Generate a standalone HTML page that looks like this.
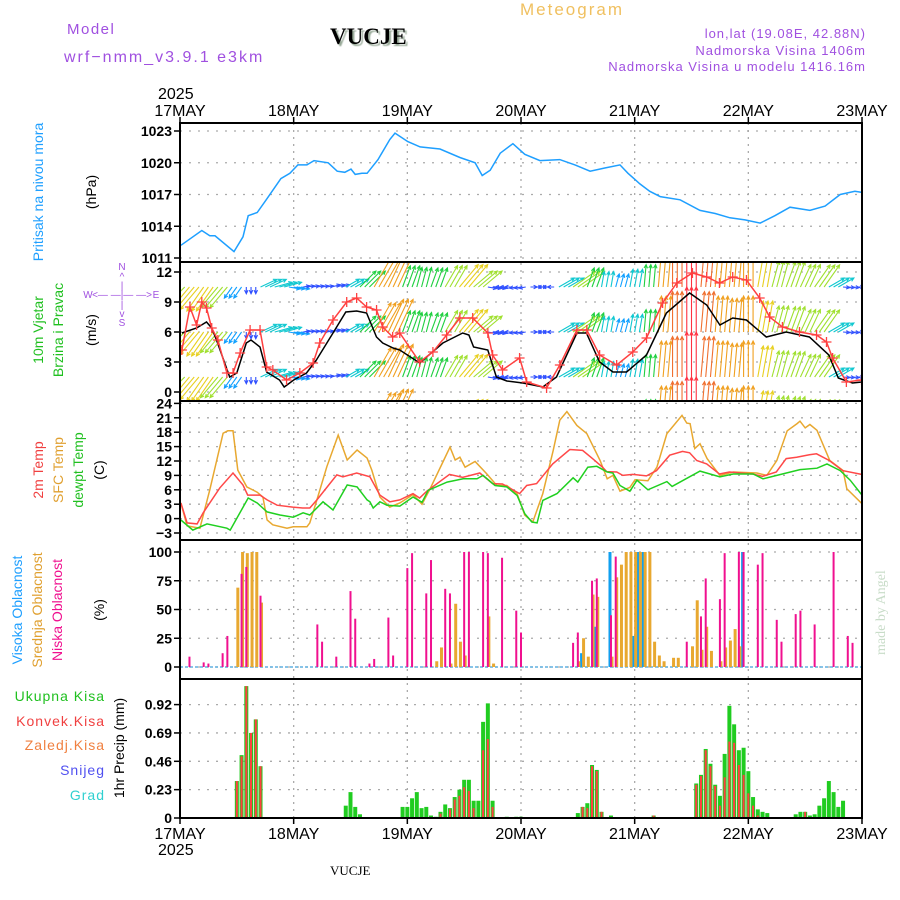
<!DOCTYPE html>
<html><head><meta charset="utf-8"><style>
html,body{margin:0;padding:0;background:#fff}
svg{display:block}
text{font-family:"Liberation Sans",sans-serif}
.tk{font-size:14px;font-weight:bold;fill:#000}
</style></head><body>
<svg id="chart" width="900" height="900" viewBox="0 0 900 900" xmlns="http://www.w3.org/2000/svg">
<defs>
<clipPath id="cp1"><rect x="180" y="123" width="682" height="139"/></clipPath>
<clipPath id="cp2"><rect x="180" y="263" width="682" height="138"/></clipPath>
<clipPath id="cp3"><rect x="180" y="402" width="682" height="138"/></clipPath>
<filter id="sh"><feDropShadow dx="2" dy="2" stdDeviation="0.6" flood-color="#9a9"/></filter>
</defs>
<text x="67" y="34" font-size="15" fill="#a050e0" letter-spacing="1.5">Model</text>
<text x="64" y="62" font-size="16" fill="#a050e0" letter-spacing="2">wrf−nmm_v3.9.1 e3km</text>
<text x="330" y="44" font-size="23" font-weight="bold" fill="#000" filter="url(#sh)" style="font-family:'Liberation Serif',serif">VUCJE</text>
<text x="520" y="15" font-size="17" fill="#f0c060" letter-spacing="2">Meteogram</text>
<text x="866" y="38" font-size="13" fill="#a050e0" text-anchor="end" letter-spacing="1">lon,lat (19.08E, 42.88N)</text>
<text x="866" y="55" font-size="13" fill="#a050e0" text-anchor="end" letter-spacing="1">Nadmorska Visina 1406m</text>
<text x="866" y="71" font-size="13" fill="#a050e0" text-anchor="end" letter-spacing="1">Nadmorska Visina u modelu 1416.16m</text>
<text x="158" y="99" font-size="16" fill="#000">2025</text>
<text x="158" y="855" font-size="16" fill="#000">2025</text>
<text x="330" y="875" font-size="13" fill="#000" style="font-family:'Liberation Serif',serif">VUCJE</text>
<text transform="translate(885,655) rotate(-90)" font-size="14" fill="#c8dcc8" style="font-family:'Liberation Serif',serif">made by Angel</text>
<g id="labels" font-size="14">
<text transform="translate(43,192) rotate(-90)" text-anchor="middle" fill="#1e9fff">Pritisak na nivou mora</text>
<text transform="translate(96,192) rotate(-90)" text-anchor="middle" fill="#000">(hPa)</text>
<text transform="translate(43,330) rotate(-90)" text-anchor="middle" fill="#20c020">10m Vjetar</text>
<text transform="translate(63,330) rotate(-90)" text-anchor="middle" fill="#20c020">Brzina i Pravac</text>
<text transform="translate(96,330) rotate(-90)" text-anchor="middle" fill="#000">(m/s)</text>
<text transform="translate(43,470) rotate(-90)" text-anchor="middle" fill="#f04040">2m Temp</text>
<text transform="translate(63,470) rotate(-90)" text-anchor="middle" fill="#e0a030">SFC Temp</text>
<text transform="translate(83,470) rotate(-90)" text-anchor="middle" fill="#20c020">dewpt Temp</text>
<text transform="translate(104,470) rotate(-90)" text-anchor="middle" fill="#000">(C)</text>
<text transform="translate(22,610) rotate(-90)" text-anchor="middle" fill="#1e9fff">Visoka Oblacnost</text>
<text transform="translate(42,610) rotate(-90)" text-anchor="middle" fill="#e0a030">Srednja Oblacnost</text>
<text transform="translate(62,610) rotate(-90)" text-anchor="middle" fill="#f0108f">Niska Oblacnost</text>
<text transform="translate(104,610) rotate(-90)" text-anchor="middle" fill="#000">(%)</text>
<text x="105" y="701" text-anchor="end" fill="#20c020" letter-spacing="1">Ukupna Kisa</text>
<text x="105" y="726" text-anchor="end" fill="#f04040" letter-spacing="1">Konvek.Kisa</text>
<text x="105" y="750" text-anchor="end" fill="#f08040" letter-spacing="1">Zaledj.Kisa</text>
<text x="105" y="775" text-anchor="end" fill="#5050f0" letter-spacing="1">Snijeg</text>
<text x="105" y="800" text-anchor="end" fill="#30d0d0" letter-spacing="1">Grad</text>
<text transform="translate(124,748) rotate(-90)" text-anchor="middle" fill="#000">1hr Precip (mm)</text>
</g>
<g fill="#a050e0" font-size="10" text-anchor="middle">
<text x="122" y="270">N</text><text x="122" y="280">^</text><text x="122" y="289">|</text>
<text x="88" y="298">W</text><text x="122" y="298">&lt;— —|— —&gt;</text><text x="156" y="298">E</text>
<text x="122" y="308">|</text><text x="122" y="317">v</text><text x="122" y="326">S</text>
</g>
<g id="plot"></g>
</svg>
<script>
const dayLabels=["17MAY","18MAY","19MAY","20MAY","21MAY","22MAY","23MAY"];
const presTicks=[1011,1014,1017,1020,1023];
const windTicks=[0,3,6,9,12];
const tempTicks=[-3,0,3,6,9,12,15,18,21,24];
const cloudTicks=[0,25,50,75,100];
const precipTicks=[0,0.23,0.46,0.69,0.92];
const presH=[0.2,4.6,6.3,7.4,11.4,13.3,14.4,16.3,18.2,21.3,23.2,24.9,26.8,28.3,31.3,33.2,34.8,36.1,37,38.4,39.5,41.8,44.3,45.4,48.1,50.7,54.9,59.1,62.3,63.8,65.5,67.6,70.3,72.8,76,80.2,83.4,86.6,89.7,92.9,94.6,97.1,99.2,101.4,105.6,109.8,113,116.1,119.3,122.5,125.6,128.8,133,136.2,139.4,142.5,144];
const presV=[1012.2,1013.6,1013.1,1013.1,1011.6,1013,1015,1015.3,1016.5,1018.5,1019,1019.8,1019.8,1020.2,1020,1019.2,1019.1,1019.4,1018.9,1019,1019,1020.3,1022.2,1022.8,1022,1021.5,1021.3,1020.5,1020,1018.8,1019.3,1020.9,1021.8,1020.8,1020.2,1020.3,1019.8,1019.2,1019.5,1019.8,1019,1018,1017.3,1016.8,1016.5,1015.5,1015.2,1014.8,1014.6,1014.3,1015,1015.8,1015.5,1015.9,1017,1017.3,1017.2];
const spdH=[0.4,3.5,5.6,6.7,7.7,10.5,12,14,15,16.9,18.3,21,22,24,26.7,28.8,32.3,35,37.3,39.4,41.5,42.8,45,46.4,50.6,55.5,59.7,61,62,65,66.8,69,72.4,76.6,79.5,83.8,85.8,88.6,91.4,94.3,98.5,102.7,107.6,111.2,114,116.7,119.6,123.8,128,132.9,137,139,142,144];
const spdV=[5.9,6.4,7,6.4,5.2,1.5,1.9,4.9,5.2,4.5,2,1.2,0.5,1.2,1.9,3.2,5.9,8,8.1,7.9,5.5,4.9,4.4,4.2,2.9,4.9,5.9,5.7,4.5,4.2,1.5,1.1,0.9,0.5,1.5,5.9,5.9,3,2,2,3.7,7.9,9.9,8.7,6.7,7.4,7.2,5.5,6,5.5,3.7,1.4,0.9,1];
const gustH=[0.4,2.1,3.5,4.6,5.6,6.7,8,9.9,11.2,12.7,14.8,16.9,18.3,19.6,22.5,25.3,28.1,29.5,32.3,35.2,37.3,39.4,41.5,42.8,44.9,46.4,50.6,53.4,56.3,59.1,61.8,65,66,68.1,71.7,73.2,77.4,80.2,83.8,85.9,88.6,92.2,95.6,98.5,101.9,104.9,108.2,111.2,113.9,116.7,119.6,122.4,124.5,127.2,130.8,134.4,136.5,137.8,140.7,143.9];
const gustV=[4.2,8.5,6.7,9,8.4,6.4,5.2,1.9,1.9,3.9,6.2,6.2,2.5,2.2,1.2,1.9,2.9,4.9,7.2,9,9.4,8.5,8.2,6.5,5.5,5.9,3,4,5.7,7.4,7.4,5.9,3.7,2.2,3.4,1,0.4,2.7,6.2,6.2,3.7,2.7,4,5.4,8.9,10.9,11.9,11.5,10.9,11.5,11.2,9.4,7.5,6.5,6,5.7,5,3.4,1,1.2];
const arrowH=[0,3,6,9,12,15,18,21,24,27,30,33,36,39,42,45,48,51,54,57,60,63,66,69,72,75,78,81,84,87,90,93,96,99,102,105,108,111,114,117,120,123,126,129,132,135,138,141,144];
const arrowSpd=[6,6.5,6.5,6,3,1.5,4,4,2.5,1.5,1.5,2,3.5,5,7.5,8,5,4.5,4.5,5.5,6.5,5.5,2,1.5,1.5,1.5,1.5,4,6,4.5,3.5,3,4,5,8,9,10,9,8,7.5,8,7,6,6,5.5,6,4,1.5,1.5];
const arrowDir=[225,220,215,220,215,180,65,75,100,80,80,75,60,45,30,25,20,15,20,30,40,50,100,270,260,90,270,60,55,20,10,15,10,5,5,0,0,5,5,5,0,10,15,20,25,35,60,95,90];
const arrowLevels=[-3,1.5,6,10.5];
const t2H=[0.2,1.5,3.6,4.9,8.4,11.2,13.3,14.3,16.9,18.4,20.5,23.8,25.9,27.4,28.9,33.1,34.4,37.3,40.1,42.2,44.3,46.4,49.2,50.6,52.1,56.9,59.7,63.3,66,68.1,71.7,73.2,75.3,78.7,82.3,85,87.1,89.2,90.1,92.2,93.5,95.6,98.5,100.6,103.4,106.1,107.6,109.1,111.2,113.9,116,120.9,123,125.9,128,130.2,132.9,134.4,137.1,139.9,143.9];
const t2V=[3.25,-0.9,-1.1,1.2,6.4,9.5,7,4.9,4.9,3.9,2.8,2.4,2.2,2.2,3.9,9.1,8.7,9.5,8.7,4.9,3.5,3.9,5.2,4.3,5.7,9.2,8.6,9.5,7.3,7.2,5.2,6.9,7.3,11.4,14.4,14.2,12.5,10.7,9.8,9.7,9,9.2,8.9,10,13.2,14,13.7,12.1,11.4,9.3,9.7,9.3,8.8,9.7,12.5,12.8,13.3,13.5,12.1,10,9.2];
const sfcH=[0.2,1.5,4.2,6.3,9.1,10.1,11.2,12.2,14.1,16.3,17.5,18.4,19.6,22.6,23.9,26.8,27.4,28.9,31,33.4,35.3,37.4,39.5,40.5,42.2,44.3,46.4,49.2,51.1,52.8,55.5,57,58.1,59.1,60.2,62.3,64.8,66.9,69,71.2,72.8,74.5,76.6,78.8,80.2,81.7,83.8,85.9,88.7,90.2,91.4,92.9,95,96.1,98.8,100.7,102.8,106,107,107.7,108.7,109.8,111.3,114,116.8,121.8,123.9,126,128.2,130.3,130.9,132,133,134.5,137.2,140,140.8,144];
const sfcV=[3.25,-1.5,-2,6,17.8,18.3,18.3,10.1,6.6,5.5,4.5,-0.3,-1.3,-2,-1.7,-1.7,-0.9,3.9,10.8,17.4,12.2,14.3,12.6,10.1,4.5,2.4,3.25,5,3,6.2,11.8,14.9,12.2,12.8,10.7,11.9,9.3,6.9,6.9,5.1,0.7,-0.7,5.2,14.2,20.5,22.3,19.4,17.7,12.1,8.3,9,5.7,6.5,8.1,7.9,10.7,17.7,21.5,19.9,19.8,14.6,15.6,12.5,9,9.7,9.5,9,12.1,18.3,19.8,20.3,18.9,19.6,18.4,12.1,10,6.2,3.1];
const dewH=[0.2,2.7,5.7,9.9,10.6,14.4,16.3,18.4,21.1,23.9,26,27.4,30.2,32.3,35.3,37.4,39.5,40.1,40.8,42.2,43.7,46.4,49.2,51.1,52.4,56.4,59.8,62.7,64,66.5,69,71.2,72.8,74.3,75.4,76.6,79.6,83,84,86.1,88,90.2,91.4,92.9,95,96.5,98.8,102.8,103.9,109.8,114,116.8,121,123.1,126,130.9,134.5,136.6,139.4,141.5,144];
const dewV=[-0.3,-2.4,-1.1,-2,-2.4,4.3,3.25,1.4,0.75,0.3,1.2,0.75,3.5,1.8,7,6.6,3.9,3.5,2.2,3.5,2.8,2.6,4.5,3.4,5.9,7.6,8.3,8.3,9,6.9,6.6,4.8,1,-0.7,-0.9,3.8,5.2,8.5,7.6,10.7,10.9,9.7,9.5,6.9,5.7,8,6,7.7,6.7,9.9,8.7,9.3,9.3,8.3,9,10.2,10.5,11.4,10,8,4.9];
const lowH=[2,5,6,9,10,13,14,17,29,30,33,36,37,40,41,44,45,48,49,52,53,56,57,60,61,64,65,68,71,72,83,84,87,88,91,92,107,110,111,114,115,118,119,122,123,126,127,130,131,134,138,141,142];
const lowV=[9,4,3,12,27,81,87,62,37,22,9,66,42,3,7,43,10,86,99,64,93,68,64,100,100,100,99,95,49,30,21,30,75,77,45,96,22,44,77,59,99,100,100,89,99,41,22,46,49,37,100,27,21];
const midH=[12,13,14,15,16,17,54,55,57,58,59,60,65,66,84,85,86,87,88,91,92,93,94,95,96,97,98,99,100,101,102,104,105,108,109,110,111,112,114,115,116,117,118];
const midV=[69,100,99,100,100,56,5,17,3,55,22,10,44,3,5,25,9,63,61,9,78,89,100,100,100,100,100,100,22,10,5,8,8,18,58,15,35,14,5,17,23,33,18];
const highH=[85,88,91,96,97,98,119];
const highV=[12,35,100,27,100,100,100];
const rainH=[12,13,14,15,16,17,35,36,37,38,47,48,49,50,51,52,53,54,55,56,57,58,59,60,61,62,63,64,65,66,69,71,72,84,85,86,87,88,89,91,100,109,110,111,112,113,114,115,116,117,118,119,120,121,122,123,124,130,131,132,133,134,135,136,137,138,139,140];
const rainTot=[0.30,0.51,1.07,0.69,0.80,0.42,0.10,0.21,0.09,0.03,0.09,0.09,0.16,0.21,0.08,0.09,0.02,0.01,0.05,0.11,0.08,0.17,0.23,0.31,0.31,0.14,0.14,0.78,0.93,0.14,0.01,0.01,0.01,0.04,0.09,0.12,0.43,0.39,0.05,0.02,0.02,0.28,0.35,0.56,0.44,0.27,0.18,0.52,0.91,0.76,0.55,0.57,0.38,0.17,0.07,0.05,0.04,0.03,0.05,0.05,0.02,0.03,0.10,0.16,0.30,0.21,0.09,0.14];
const rainConv=[0.30,0.50,1.07,0.69,0.80,0.42,0,0,0,0,0,0,0,0,0,0,0,0,0.035,0,0.07,0.15,0.18,0.25,0.22,0.08,0,0.55,0.64,0.09,0,0,0,0,0.09,0.08,0.42,0.38,0.05,0,0.02,0.27,0.34,0.55,0.42,0.26,0.10,0.33,0.62,0.61,0.43,0.35,0.20,0.10,0.02,0,0,0,0,0.05,0,0,0,0,0,0,0,0];

const NS="http://www.w3.org/2000/svg";
const plot=document.getElementById('plot');
const L=180,R=862;
const xs=h=>L+h*(R-L)/144;
const yP=v=>131+(1023-v)*(127/12);
const yW=v=>392-v*10;
const yT=v=>533-(v+3)*4.8;
const yC=v=>667-v*1.15;
const yR=v=>818-v*(113.4/0.92);
function mk(tag,attrs,parent){const e=document.createElementNS(NS,tag);for(const k in attrs)e.setAttribute(k,attrs[k]);(parent||plot).appendChild(e);return e;}
const panels=[[123,262],[262,401],[401,540],[540,679],[679,818]];
function hgrid(ticks,fy,fmt,name){
  const g=mk('g',{});
  
  
  ticks.forEach(t=>{
    const y=fy(t);
    mk('line',{x1:L,x2:R,y1:y,y2:y,stroke:'#aaa','stroke-width':1.3,'stroke-dasharray':'2,7'},g);
    mk('line',{x1:L-6,x2:L,y1:y,y2:y,stroke:'#000','stroke-width':1.5},g);
    const tx=mk('text',{x:L-8,y:y+5,'text-anchor':'end',class:'tk'},g);
    tx.textContent=fmt(t);
  });
}
hgrid(presTicks,yP,t=>t,'pressure');
hgrid(windTicks,yW,t=>t,'wind');
hgrid(tempTicks,yT,t=>t<0?'−'+(-t):t,'temperature');
hgrid(cloudTicks,yC,t=>t,'cloud');
hgrid(precipTicks,yR,t=>t===0?'0':t.toFixed(2),'precip');
dayLabels.forEach((d,i)=>{
  const x=xs(i*24);
  const gl=mk('line',{x1:x,x2:x,y1:123,y2:818,stroke:'#aaa','stroke-width':1.3,'stroke-dasharray':'2,5'});
  
  
  [[123,-1],[818,1]].forEach(([y,s])=>mk('line',{x1:x,x2:x,y1:y,y2:y+6*s,stroke:'#000','stroke-width':1.5}));
  const t1=mk('text',{x:x,y:116,'text-anchor':'middle','font-size':16,fill:'#000'});
  
  
  t1.textContent=d;
  const t2=mk('text',{x:x,y:839,'text-anchor':'middle','font-size':16,fill:'#000'});
  
  
  t2.textContent=d;
});
function line(H,V,fy,color,name,clip){
  const p=mk('path',{d:H.map((h,i)=>(i?'L':'M')+xs(h).toFixed(1)+','+fy(V[i]).toFixed(1)).join(''),fill:'none',stroke:color,'stroke-width':1.5,'clip-path':'url(#'+clip+')'});
  
  
  return p;
}
line(presH,presV,yP,'#1e9fff','pressure-line','cp1');
const aColors=[[1,'#8020f0'],[2,'#3050ff'],[3,'#10a0ff'],[4,'#10c8d0'],[5,'#20d040'],[6,'#a0e030'],[7,'#e8d020'],[8,'#f0a020'],[9,'#f07030'],[10,'#ff3040'],[99,'#ff1090']];
function aCol(s){for(const [lim,c] of aColors){if(s<=lim)return c;}return '#ff1090';}
const ag=mk('g',{'clip-path':'url(#cp2)'});


// each 3-hourly sample drives arrows for its 3 hourly slots
arrowLevels.forEach(lv=>{
  arrowH.forEach((h,i)=>{
    [-1,0,1].forEach(k=>{
      const hh=h+k; if(hh<0||hh>144) return;
      const x0=xs(hh),y0=yW(lv),len=arrowSpd[i]*4.5,a=arrowDir[i]*Math.PI/180;
      const x1=x0+len*Math.sin(a),y1=y0-len*Math.cos(a);
      const c=aCol(arrowSpd[i]);
      const hl=4,b1=a+Math.PI-0.45,b2=a+Math.PI+0.45;
      const ar=mk('path',{d:`M${x0},${y0}L${x1},${y1}M${x1+hl*Math.sin(b1)},${y1-hl*Math.cos(b1)}L${x1},${y1}L${x1+hl*Math.sin(b2)},${y1-hl*Math.cos(b2)}`,stroke:c,'stroke-width':1.1,fill:'none'},ag);
      
      
    });
  });
});
line(spdH,spdV,yW,'#000','wind-speed-line','cp2');
line(gustH,gustV,yW,'#ff4040','wind-gust-line','cp2');
const mg=mk('g',{stroke:'#ff4040','stroke-width':1.3,'clip-path':'url(#cp2)'});


gustH.forEach((h,i)=>{const x=xs(h),y=yW(gustV[i]);mk('path',{d:`M${x-5},${y}L${x+5},${y}M${x},${y-5}L${x},${y+5}`},mg);});
line(sfcH,sfcV,yT,'#e8a830','sfc-temp-line','cp3');
line(t2H,t2V,yT,'#ff4848','temp-2m-line','cp3');
line(dewH,dewV,yT,'#20d020','dewpoint-line','cp3');
const bl=mk('line',{x1:L,x2:R,y1:yC(0),y2:yC(0),stroke:'#60b0e0','stroke-width':1.5,'stroke-dasharray':'3,2'});


function bars(H,V,fy,color,w,off,name){
  H.forEach((h,i)=>{
    const y=fy(V[i]),y0=fy(0);
    const r=mk('rect',{x:xs(h)+off-w/2,y:y,width:w,height:Math.max(0,y0-y),fill:color});
    
    
  });
}
bars(highH,highV,yC,'#10a0f0',3,-1,'high-cloud-bar');
bars(midH,midV,yC,'#e8a830',3,1,'mid-cloud-bar');
bars(lowH,lowV,yC,'#f0108f',2,0,'low-cloud-bar');
bars(rainH,rainTot,yR,'#20cc20',4,0,'total-rain-bar');
bars(rainH,rainConv,yR,'#ff4040',2,0,'convective-rain-bar');
panels.forEach(([a,b],i)=>{
  const r=mk('rect',{x:L,y:a,width:R-L,height:b-a,fill:'none',stroke:'#000','stroke-width':2});
  
  
});
</script>
</body></html>
